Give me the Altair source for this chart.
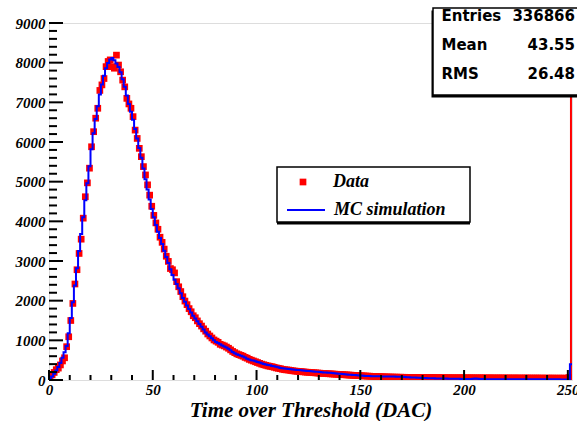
import altair as alt
import pandas as pd

# ---------------- data ----------------
n_bins = 252  # bins of width 1 DAC, 0..252

mc_values = [
    40, 90, 160, 240, 330, 430, 560, 700, 860, 1180,
    1560, 1960, 2380, 2820, 3250, 3680, 4100, 4530, 4960, 5390,
    5820, 6220, 6580, 6900, 7200, 7450, 7670, 7860, 7990, 8080,
    8120, 8060, 7980, 7890, 7760, 7580, 7390, 7170, 6960, 6760,
    6560, 6330, 6090, 5850, 5600, 5330, 5060, 4800, 4550, 4310,
    4100, 3910, 3740, 3580, 3430, 3260, 3100, 2950, 2790, 2650,
    2530, 2420, 2310, 2190, 2070, 1970, 1880, 1790, 1700, 1620,
    1550, 1480, 1410, 1340, 1270, 1200, 1150, 1100, 1050, 1000,
    960, 930, 900, 870, 845, 820, 790, 750, 705, 675,
    650, 630, 610, 590, 565, 535, 515, 500, 490, 470,
    455, 440, 420, 405, 390, 380, 370, 355, 345, 335,
    320, 305, 295, 290, 285, 280, 270, 265, 260, 255,
    250, 245, 240, 235, 230, 225, 220, 215, 210, 205,
    200, 196, 192, 188, 184, 180, 175, 170, 165, 160,
    155, 150, 145, 140, 135, 130, 127, 124, 120, 116,
    112, 108, 104, 100, 98, 96, 95, 94, 93, 92,
    90, 90, 88, 88, 87, 86, 86, 85, 84, 84,
    80, 76, 72, 68, 65, 62, 60, 57, 55, 52,
    50, 48, 47, 45, 44, 42, 40, 39, 38, 37,
    36, 35, 34, 33, 32, 31, 30, 29, 28, 27,
    26, 25, 24, 24, 30, 38, 30, 24, 23, 23,
    22, 22, 22, 21, 21, 21, 20, 20, 20, 20,
    20, 19, 19, 19, 19, 19, 18, 18, 18, 18,
    18, 18, 17, 17, 17, 17, 17, 17, 16, 16,
    16, 16, 16, 16, 16, 16, 15, 15, 15, 15,
    15, 400,
]

data_values = [
    60, 130, 190, 260, 300, 380, 480, 560, 840, 1090,
    1500, 1930, 2420, 2780, 3190, 3550, 4080, 4620, 4970, 5340,
    5880, 6260, 6600, 6850, 7300, 7440, 7600, 7900, 8030, 8070,
    7900, 7860, 8190, 7940, 7770, 7560, 7390, 7100, 6960, 6850,
    6640, 6300, 6090, 5840, 5630, 5380, 5170, 4920, 4660, 4380,
    4150, 3960, 3800, 3600, 3470, 3300, 3120, 2990, 2810, 2780,
    2700, 2480, 2350, 2230, 2100, 1990, 1900, 1800, 1720, 1620,
    1570, 1490, 1420, 1360, 1290, 1230, 1160, 1110, 1060, 1010,
    980, 950, 900, 880, 860, 830, 800, 760, 720, 690,
    660, 640, 620, 600, 570, 550, 520, 500, 480, 460,
    440, 420, 400, 385, 370, 355, 345, 335, 320, 305,
    295, 285, 270, 260, 255, 250, 240, 232, 225, 220,
    215, 212, 205, 200, 196, 192, 188, 184, 180, 176,
    172, 168, 165, 162, 158, 155, 152, 148, 145, 142,
    140, 136, 132, 128, 125, 122, 118, 115, 112, 110,
    108, 104, 100, 98, 96, 92, 90, 88, 86, 84,
    82, 80, 78, 76, 75, 74, 72, 72, 70, 70,
    68, 68, 66, 66, 65, 64, 64, 63, 62, 62,
    62, 61, 60, 60, 62, 60, 58, 60, 58, 57,
    58, 56, 57, 55, 56, 55, 54, 56, 55, 54,
    55, 53, 54, 55, 53, 52, 54, 53, 52, 53,
    52, 51, 53, 52, 50, 51, 52, 50, 51, 50,
    50, 51, 49, 50, 50, 49, 50, 48, 49, 50,
    48, 49, 48, 47, 49, 48, 47, 48, 46, 47,
    47, 46, 48, 46, 45, 47, 46, 45, 46, 45,
    60, 30000,
]

x_tick_labels = [0, 50, 100, 150, 200, 250]
y_tick_labels = [0, 1000, 2000, 3000, 4000, 5000, 6000, 7000, 8000, 9000]
x_minor = [v for v in range(0, 253, 10) if v % 50 != 0]
y_minor = [v for v in range(0, 9001, 200) if v % 1000 != 0]

stats_names = ["Entries", "Mean", "RMS"]
stats_vals = ["336866", "43.55", "26.48"]
legend_labels = ["Data", "MC simulation"]
x_title = "Time over Threshold (DAC)"

# ---------------- tables ----------------
lo = list(range(n_bins))
pts = pd.DataFrame({
    "center": [b + 0.5 for b in lo],
    "data": data_values[:n_bins],
    "zero": [0] * n_bins,
})
step = pd.DataFrame({
    "edge": lo + [n_bins],
    "mc": mc_values[:n_bins] + [mc_values[n_bins - 1]],
})
spike = pts[pts["data"] > 9000]

W, H = 523, 357
SERIF = "Liberation Serif"
SANS = "DejaVu Sans"

xs = alt.Scale(domain=[0, n_bins], nice=False, zero=False)
ys = alt.Scale(domain=[0, 9000], nice=False)

x_axis = alt.Axis(
    values=x_tick_labels, ticks=False, domain=False, grid=False, format="d",
    labelFont=SERIF, labelFontSize=15, labelFontWeight="bold", labelFontStyle="italic",
    labelColor="black", labelFlush=False, labelOverlap=False, labelPadding=2,
    title=x_title, titleFont=SERIF, titleFontSize=21, titleFontWeight="bold",
    titleFontStyle="italic", titleColor="black", titlePadding=2,
)
y_axis = alt.Axis(
    values=y_tick_labels, ticks=False, domain=False, grid=False, format="d",
    labelFont=SERIF, labelFontSize=15, labelFontWeight="bold", labelFontStyle="italic",
    labelColor="black", labelFlush=False, labelOverlap=False, labelPadding=4,
    title=None,
)

RED = "#ff0000"
BLUE = "#0000ff"

squares = alt.Chart(pts).mark_square(size=45, color=RED, opacity=1, clip=True).encode(
    x=alt.X("center:Q", scale=xs, axis=x_axis, title=x_title),
    y=alt.Y("data:Q", scale=ys, axis=y_axis, title=None),
)
spike_rule = alt.Chart(spike).mark_rule(color=RED, strokeWidth=2, clip=True).encode(
    x=alt.X("center:Q", scale=xs, axis=x_axis, title=x_title),
    y=alt.Y("zero:Q", scale=ys, axis=y_axis, title=None),
    y2="data:Q",
)
mc_line = alt.Chart(step).mark_line(
    interpolate="step-after", color=BLUE, strokeWidth=2, clip=True
).encode(
    x=alt.X("edge:Q", scale=xs, axis=x_axis, title=x_title),
    y=alt.Y("mc:Q", scale=ys, axis=y_axis, title=None),
)

def xticks(vals, length):
    return alt.Chart(pd.DataFrame({"v": vals})).mark_rule(color="black", strokeWidth=2).encode(
        x=alt.X("v:Q", scale=xs, axis=x_axis, title=x_title),
        y=alt.value(H), y2=alt.value(H - length),
    )

def yticks(vals, length):
    return alt.Chart(pd.DataFrame({"v": vals})).mark_rule(color="black", strokeWidth=2).encode(
        y=alt.Y("v:Q", scale=ys, axis=y_axis, title=None),
        x=alt.value(0), x2=alt.value(length),
    )

dummy = pd.DataFrame({"a": [0]})

def box(x1, y1, x2, y2, shadow=(-1.5, 2.5)):
    sh = alt.Chart(dummy).mark_rect(color="black").encode(
        x=alt.value(x1 + shadow[0]), x2=alt.value(x2 + shadow[0]),
        y=alt.value(y1 + shadow[1]), y2=alt.value(y2 + shadow[1]),
    )
    bx = alt.Chart(dummy).mark_rect(fill="white", stroke="black", strokeWidth=1.5).encode(
        x=alt.value(x1), x2=alt.value(x2), y=alt.value(y1), y2=alt.value(y2),
    )
    return [sh, bx]

def text(s, x, y, align, font, size, style="normal"):
    return alt.Chart(dummy).mark_text(
        text=s, align=align, baseline="middle", font=font, fontSize=size,
        fontWeight="bold", fontStyle=style, color="black",
    ).encode(x=alt.value(x), y=alt.value(y))

# legend box
legend_layers = box(228, 144, 421, 199, shadow=(0, 2.5))
legend_layers += [
    alt.Chart(dummy).mark_square(size=45, color=RED, opacity=1).encode(
        x=alt.value(254), y=alt.value(159)),
    alt.Chart(dummy).mark_rule(color=BLUE, strokeWidth=2).encode(
        x=alt.value(238), x2=alt.value(276), y=alt.value(187)),
    text(legend_labels[0], 284, 159, "left", SERIF, 18, "italic"),
    text(legend_labels[1], 285, 187, "left", SERIF, 18, "italic"),
]

# stats box
stats_layers = box(384, -15, 540, 72)
for i, (nm, val) in enumerate(zip(stats_names, stats_vals)):
    yy = -7.5 + i * 29
    stats_layers.append(text(nm, 392.5, yy, "left", SANS, 15))
    stats_layers.append(text(val, 526, yy, "right", SANS, 15))

chart = alt.layer(
    squares, spike_rule, mc_line,
    xticks(x_tick_labels, 10), xticks(x_minor, 5),
    yticks(y_tick_labels, 14), yticks(y_minor, 8),
    *legend_layers, *stats_layers,
).properties(
    width=W, height=H,
    autosize=alt.AutoSizeParams(type="none"),
    padding={"left": 49, "top": 23, "right": 5, "bottom": 41},
).configure_view(
    stroke="black", strokeWidth=2,
).configure(background="white")

chart.save("out.html", embed_options={"renderer": "svg", "actions": False})
